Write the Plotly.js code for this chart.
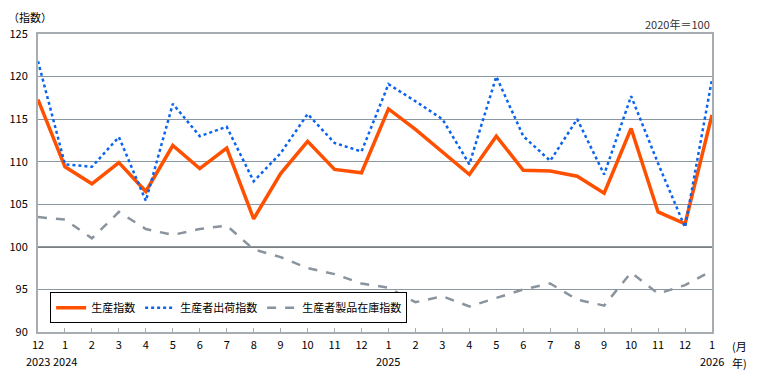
<!DOCTYPE html>
<html>
<head>
<meta charset="utf-8">
<script src="https://cdn.plot.ly/plotly-3.0.1.min.js"></script>
<style>html,body{margin:0;padding:0;background:#fff;}#chart{width:772px;height:373px;}</style>
</head>
<body>
<div id="chart"></div>
<script>
// Months: Dec 2023 .. Jan 2026
const monthLabels = ["12","1","2","3","4","5","6","7","8","9","10","11","12","1","2","3","4","5","6","7","8","9","10","11","12","1"];
const yearLabels  = ["2023","2024","","","","","","","","","","","","2025","","","","","","","","","","","","2026"];
const seriesNames = ["生産指数","生産者出荷指数","生産者製品在庫指数"];
const production = [117.3,109.4,107.4,109.9,106.5,111.9,109.2,111.6,103.3,108.6,112.4,109.1,108.7,116.2,113.8,111.1,108.5,113.0,109.0,108.9,108.3,106.3,113.9,104.1,102.7,115.5];
const shipments  = [121.8,109.7,109.4,112.9,105.4,116.8,113.0,114.1,107.7,111.0,115.6,112.2,111.2,119.1,117.1,115.0,109.7,120.0,113.0,110.1,115.0,108.5,117.7,109.8,102.3,119.7];
const inventory  = [103.5,103.2,101.0,104.1,102.1,101.4,102.1,102.5,99.7,98.8,97.5,96.8,95.7,95.2,93.5,94.2,93.0,94.0,95.0,95.7,93.8,93.1,97.0,94.5,95.5,97.2];
const yTicks = [90,95,100,105,110,115,120,125];

const xIdx = monthLabels.map((_, i) => i);
const FONT = "'Noto Sans CJK JP', 'Noto Sans', sans-serif";

const traces = [
  {x: xIdx, y: production, name: seriesNames[0], type: "scatter", mode: "lines",
   line: {color: "#ff5000", width: 3.5}},
  {x: xIdx, y: shipments, name: seriesNames[1], type: "scatter", mode: "lines",
   line: {color: "#0a64f0", width: 2.5, dash: "dot"}},
  {x: xIdx, y: inventory, name: seriesNames[2], type: "scatter", mode: "lines",
   line: {color: "#8a949e", width: 2.5, dash: "dash"}}
];

const yearAnns = [];
yearLabels.forEach((yl, i) => {
  if (yl) yearAnns.push({text: yl, xref: "x", yref: "paper", x: i, y: -0.096,
    xanchor: "center", yanchor: "middle", showarrow: false,
    font: {family: FONT, size: 11, color: "#000"}});
});

const layout = {
  width: 772, height: 373,
  margin: {l: 38, r: 60, t: 34, b: 41, pad: 0},
  paper_bgcolor: "#fff", plot_bgcolor: "#fff",
  font: {family: FONT, size: 11, color: "#000"},
  showlegend: true,
  legend: {
    orientation: "h", x: 0.018, y: 0.133, xanchor: "left", yanchor: "top",
    bgcolor: "#fff", bordercolor: "#000", borderwidth: 1,
    font: {family: FONT, size: 11, color: "#000"},
    tracegroupgap: 0, itemwidth: 30
  },
  xaxis: {
    range: [0, 25], tickmode: "array", tickvals: xIdx, ticktext: monthLabels,
    ticks: "inside", ticklen: 4, tickcolor: "#a6acb2", tickwidth: 1,
    showgrid: false, zeroline: false,
    showline: true, linecolor: "#a6acb2", linewidth: 2, mirror: true,
    tickfont: {family: FONT, size: 11, color: "#000"}, ticklabelstandoff: 2, fixedrange: true
  },
  yaxis: {
    range: [90, 125], tickmode: "array", tickvals: yTicks,
    ticks: "", showgrid: true, gridcolor: "#8a96a2", gridwidth: 1,
    zeroline: false, showline: true, linecolor: "#a6acb2", linewidth: 2, mirror: true,
    tickfont: {family: FONT, size: 11, color: "#000"}, ticklabelstandoff: 6, fixedrange: true
  },
  shapes: [
    {type: "line", xref: "paper", x0: 0, x1: 1, yref: "y", y0: 100, y1: 100,
     line: {color: "#000", width: 1.5}, layer: "below"}
  ],
  annotations: [
    {text: "（指数）", xref: "paper", yref: "paper", x: -0.047, y: 1.056, xanchor: "left", yanchor: "middle",
     showarrow: false, font: {family: FONT, size: 11, color: "#000"}},
    {text: "2020年＝100", xref: "paper", yref: "paper", x: 1, y: 1.0, xanchor: "right", yanchor: "bottom",
     showarrow: false, font: {family: FONT, size: 11, color: "#333"}},
    {text: "(月", xref: "paper", yref: "paper", x: 1.028, y: -0.046, xanchor: "left", yanchor: "middle",
     showarrow: false, borderpad: 0, font: {family: FONT, size: 11, color: "#000"}},
    {text: "年)", xref: "paper", yref: "paper", x: 1.028, y: -0.103, xanchor: "left", yanchor: "middle",
     showarrow: false, borderpad: 0, font: {family: FONT, size: 11, color: "#000"}}
  ].concat(yearAnns)
};

Plotly.newPlot("chart", traces, layout, {staticPlot: true, displayModeBar: false});
</script>
</body>
</html>
